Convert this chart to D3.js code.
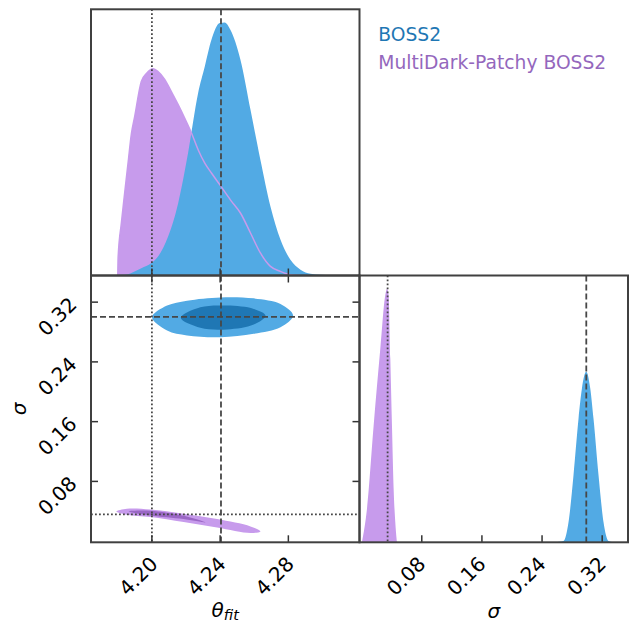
<!DOCTYPE html>
<meta charset="utf-8">
<style>
body { margin: 0; background: #fff; }
svg { display: block; font-family: "DejaVu Sans", sans-serif; }
.tick line { stroke: #333; stroke-width: 1.5px; }
</style>
<svg width="631" height="624"></svg>
<script src="https://d3js.org/d3.v7.min.js"></script>
<script>

// axis settings
var thetaDomain = [4.1646, 4.322];
var sigmaDomain = [-0.0022, 0.355];
var thetaTicks = [4.20, 4.24, 4.28];
var sigmaTicks = [0.08, 0.16, 0.24, 0.32];

// truth lines (dashed = BOSS2, dotted = Patchy)
var thetaDash = 4.2408, thetaDot = 4.2003;
var sigmaDash = 0.2995, sigmaDot = 0.0352;

var names = ["BOSS2", "MultiDark-Patchy BOSS2"];

// marginal of theta_fit (peak normalised to 1)
var bossTheta = [4.1700, 4.1843, 4.1941, 4.2000, 4.2039, 4.2098, 4.2157, 4.2215, 4.2274, 4.2313,
  4.2352, 4.2401, 4.2430, 4.2463, 4.2522, 4.2581, 4.2639, 4.2698, 4.2757, 4.2815, 4.2874, 4.2933,
  4.3050, 4.3214];
var bossThetaP = [0, 0.003, 0.029, 0.049, 0.075, 0.154, 0.286, 0.484, 0.721, 0.826,
  0.932, 0.998, 1.0, 0.971, 0.853, 0.655, 0.457, 0.273, 0.141, 0.062, 0.023, 0.007,
  0.001, 0];
var patchyTheta = [4.1803, 4.1805, 4.1824, 4.1843, 4.1863, 4.1883, 4.1902, 4.1941, 4.1971, 4.2010,
  4.2039, 4.2078, 4.2117, 4.2157, 4.2195, 4.2235, 4.2274, 4.2313, 4.2352, 4.2405, 4.2463, 4.2522,
  4.2581, 4.2639, 4.2698, 4.2757, 4.2815, 4.2874];
var patchyThetaP = [0, 0.07, 0.207, 0.324, 0.443, 0.561, 0.628, 0.767, 0.798, 0.817,
  0.806, 0.775, 0.727, 0.675, 0.622, 0.563, 0.497, 0.444, 0.405, 0.355, 0.299, 0.247,
  0.168, 0.089, 0.036, 0.016, 0.003, 0];

// marginal of sigma
var bossSigma = [0.2582, 0.2692, 0.2759, 0.2825, 0.2892, 0.2937, 0.2994, 0.3048, 0.3091, 0.3158, 0.3224, 0.3291, 0.3353];
var bossSigmaP = [0, 0.005, 0.08, 0.264, 0.488, 0.606, 0.672, 0.606, 0.488, 0.264, 0.08, 0.005, 0];
var patchySigma = [0.0011, 0.0078, 0.0166, 0.0255, 0.0321, 0.0344, 0.0365, 0.0388, 0.0410, 0.0432, 0.0454, 0.0477];
var patchySigmaP = [0, 0.133, 0.46, 0.764, 0.975, 1.0, 0.975, 0.724, 0.46, 0.212, 0.08, 0];

// 2D contours [theta, sigma], outer (95%) and inner (68%)
var bossOuter = [[4.2004, 0.2991], [4.2092, 0.3147], [4.2209, 0.3213], [4.2405, 0.3257], [4.2600, 0.3244],
  [4.2757, 0.3169], [4.2831, 0.3013], [4.2757, 0.2857], [4.2600, 0.2769], [4.2405, 0.2724],
  [4.2209, 0.2747], [4.2092, 0.2813]];
var bossInner = [[4.2172, 0.2983], [4.2287, 0.3124], [4.2444, 0.3147], [4.2600, 0.3103], [4.2669, 0.3013],
  [4.2600, 0.2893], [4.2444, 0.2827], [4.2287, 0.2849]];
var patchyOuter = [[4.1795, 0.0391], [4.1857, 0.0427], [4.1994, 0.0417], [4.2188, 0.0360], [4.2385, 0.0289],
  [4.2581, 0.0191], [4.2639, 0.0124], [4.2581, 0.0103], [4.2385, 0.0177], [4.2189, 0.0249],
  [4.1994, 0.0316], [4.1857, 0.0347]];
var patchyInner = [[4.1867, 0.0391], [4.1994, 0.0400], [4.2188, 0.0333], [4.2317, 0.0244],
  [4.2188, 0.0289], [4.1994, 0.0337]];

var blueLight = "#52aae4", blueDark = "#1f77b4";
var purpleLight = "#c79bec", purpleDark = "#9a67c5";
var truthColor = "#474747";

var svg = d3.select("svg");

var L = 91, M = 359.5, R = 628, T = 9.3, Mid = 275.5, B = 542.3;

var xTheta = d3.scaleLinear().domain(thetaDomain).range([L, M]);
var xSigma = d3.scaleLinear().domain(sigmaDomain).range([M, R]);
var ySigma = d3.scaleLinear().domain(sigmaDomain).range([B, Mid]);
var yTop = d3.scaleLinear().domain([0, 1.052]).range([Mid, T]);
var yRight = d3.scaleLinear().domain([0, 1.052]).range([B, Mid]);

var defs = svg.append("defs");
function clip(id, x, y, w, h) {
  defs.append("clipPath").attr("id", id)
    .append("rect").attr("x", x).attr("y", y).attr("width", w).attr("height", h);
}
clip("c1", L, T, M - L, Mid - T);
clip("c2", L, Mid, M - L, B - Mid);
clip("c3", M, Mid, R - M, B - Mid);

function marginal(g, xs, ys, grid, dens, fill) {
  var pts = grid.map(function(v, i) { return [v, dens[i]]; });
  g.append("path").datum(pts)
    .attr("fill", fill)
    .attr("d", d3.area().curve(d3.curveMonotoneX)
      .x(function(d) { return xs(d[0]); })
      .y0(ys(0))
      .y1(function(d) { return ys(d[1]); }));
  return pts;
}
function marginalLine(g, xs, ys, pts, color) {
  g.append("path").datum(pts)
    .attr("fill", "none").attr("stroke", color).attr("stroke-width", 1.5)
    .attr("d", d3.line().curve(d3.curveMonotoneX)
      .x(function(d) { return xs(d[0]); })
      .y(function(d) { return ys(d[1]); }));
}
function contour(g, pts, fill) {
  g.append("path").datum(pts)
    .attr("fill", fill)
    .attr("d", d3.line().curve(d3.curveCatmullRomClosed.alpha(0.5))
      .x(function(d) { return xTheta(d[0]); })
      .y(function(d) { return ySigma(d[1]); }));
}
function vline(g, x, y0, y1, dotted) {
  g.append("line").attr("x1", x).attr("x2", x).attr("y1", y0).attr("y2", y1)
    .attr("stroke", truthColor).attr("stroke-width", dotted ? 1.8 : 1.8)
    .attr("stroke-dasharray", dotted ? "1.8,2.2" : "6,3");
}
function hline(g, y, x0, x1, dotted) {
  g.append("line").attr("y1", y).attr("y2", y).attr("x1", x0).attr("x2", x1)
    .attr("stroke", truthColor).attr("stroke-width", 1.8)
    .attr("stroke-dasharray", dotted ? "1.8,2.2" : "6,3");
}

// top-left: theta marginal
var g1 = svg.append("g").attr("clip-path", "url(#c1)");
var pTh = marginal(g1, xTheta, yTop, patchyTheta, patchyThetaP, purpleLight);
marginal(g1, xTheta, yTop, bossTheta, bossThetaP, blueLight);
marginalLine(g1, xTheta, yTop, pTh, purpleLight);
vline(g1, xTheta(thetaDash), T, Mid, false);
vline(g1, xTheta(thetaDot), T, Mid, true);

// bottom-left: 2D
var g2 = svg.append("g").attr("clip-path", "url(#c2)");
contour(g2, patchyOuter, purpleLight);
contour(g2, patchyInner, purpleDark);
contour(g2, bossOuter, blueLight);
contour(g2, bossInner, blueDark);
vline(g2, xTheta(thetaDash), Mid, B, false);
vline(g2, xTheta(thetaDot), Mid, B, true);
hline(g2, ySigma(sigmaDash), L, M, false);
hline(g2, ySigma(sigmaDot), L, M, true);

// bottom-right: sigma marginal
var g3 = svg.append("g").attr("clip-path", "url(#c3)");
marginal(g3, xSigma, yRight, patchySigma, patchySigmaP, purpleLight);
marginal(g3, xSigma, yRight, bossSigma, bossSigmaP, blueLight);
vline(g3, xSigma(sigmaDash), Mid, B, false);
vline(g3, xSigma(sigmaDot), Mid, B, true);

// axes, ticks pointing inward
var fmt = d3.format(".2f");
function addAxis(axis, tx, ty, labelT) {
  var g = svg.append("g").attr("transform", "translate(" + tx + "," + ty + ")").call(axis);
  g.select(".domain").remove();
  if (labelT) {
    g.selectAll("text").attr("x", 0).attr("y", 0).attr("dy", null)
      .attr("text-anchor", "end").attr("transform", labelT)
      .style("font-family", "'DejaVu Sans', sans-serif")
      .style("font-size", "20px")
      .style("fill", "#000");
  } else {
    g.selectAll("text").remove();
  }
  return g;
}
addAxis(d3.axisBottom(xTheta).tickValues(thetaTicks).tickSizeInner(-7).tickSizeOuter(0), 0, Mid);
addAxis(d3.axisTop(xTheta).tickValues(thetaTicks).tickSizeInner(-7).tickSizeOuter(0), 0, Mid);
addAxis(d3.axisBottom(xTheta).tickValues(thetaTicks).tickFormat(fmt).tickSizeInner(-7).tickSizeOuter(0),
  0, B, "translate(7,23) rotate(-45)");
addAxis(d3.axisLeft(ySigma).tickValues(sigmaTicks).tickFormat(fmt).tickSizeInner(-7).tickSizeOuter(0),
  L, 0, "translate(-13,3.5) rotate(-45)");
addAxis(d3.axisRight(ySigma).tickValues(sigmaTicks).tickSizeInner(-7).tickSizeOuter(0), M, 0);
addAxis(d3.axisBottom(xSigma).tickValues(sigmaTicks).tickFormat(fmt).tickSizeInner(-7).tickSizeOuter(0),
  0, B, "translate(5,23) rotate(-45)");

// spines
[[L, T, M - L, Mid - T], [L, Mid, M - L, B - Mid], [M, Mid, R - M, B - Mid]].forEach(function(r) {
  svg.append("rect").attr("x", r[0]).attr("y", r[1]).attr("width", r[2]).attr("height", r[3])
    .attr("fill", "none").attr("stroke", "#404040").attr("stroke-width", 2);
});

// axis labels
var xl = svg.append("text").attr("x", (L + M) / 2).attr("y", 616.5)
  .attr("text-anchor", "middle").attr("font-style", "italic").attr("font-size", 20);
xl.append("tspan").text("θ");
xl.append("tspan").attr("font-size", 14.5).attr("dy", 3.5).text("fit");
svg.append("text").attr("x", (M + R) / 2).attr("y", 617.5)
  .attr("text-anchor", "middle").attr("font-style", "italic").attr("font-size", 20).text("σ");
svg.append("text").attr("transform", "translate(26," + ((Mid + B) / 2) + ") rotate(-90)")
  .attr("text-anchor", "middle").attr("font-style", "italic").attr("font-size", 20).text("σ");

// legend
svg.selectAll(".legend").data(names).enter().append("text")
  .attr("class", "legend")
  .attr("x", 378.3)
  .attr("y", function(d, i) { return 40.7 + i * 28; })
  .attr("font-size", 18.7)
  .attr("fill", function(d, i) { return i === 0 ? blueDark : "#9467bd"; })
  .text(function(d) { return d; });

</script>
